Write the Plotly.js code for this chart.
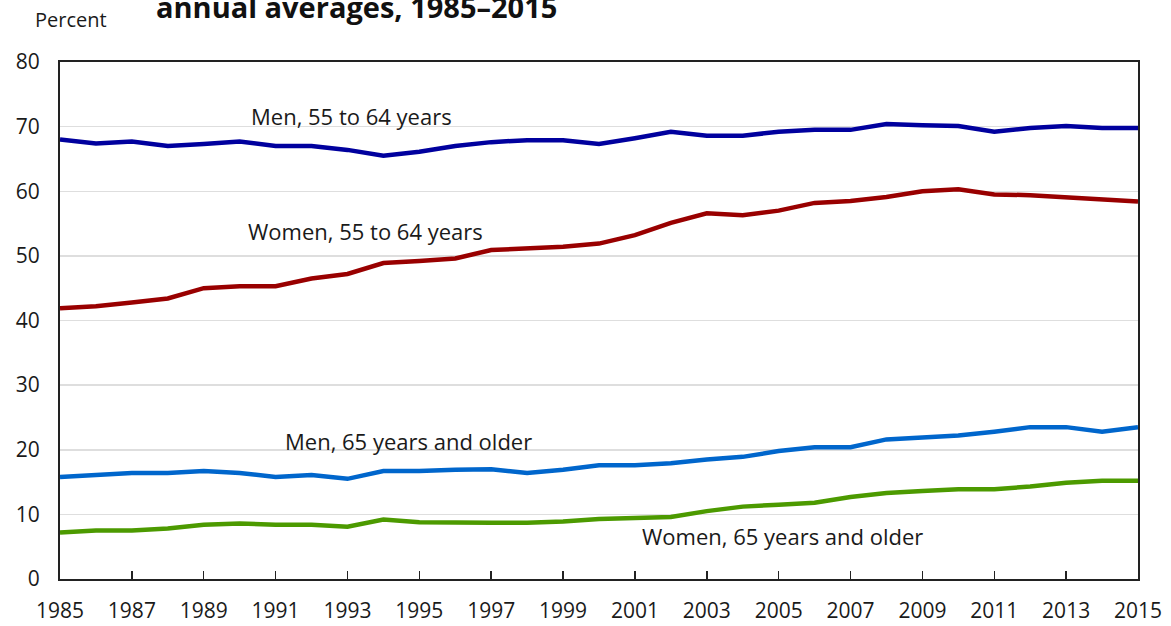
<!DOCTYPE html>
<html>
<head>
<meta charset="utf-8">
<script src="https://cdn.plot.ly/plotly-3.0.1.min.js"></script>
<style>
  html, body { margin: 0; padding: 0; background: #fff; }
  #chart { width: 1171px; height: 626px; }
</style>
</head>
<body>
<div id="chart"></div>
<script>
var years = [];
for (var y = 1985; y <= 2015; y++) years.push(y);

var men5564 = [68.0,67.4,67.7,67.0,67.3,67.7,67.0,67.0,66.4,65.5,66.1,67.0,67.6,67.9,67.9,67.3,68.2,69.2,68.6,68.6,69.2,69.5,69.5,70.4,70.2,70.1,69.2,69.8,70.1,69.8,69.8];
var women5564 = [41.9,42.2,42.8,43.4,45.0,45.3,45.3,46.5,47.2,48.9,49.2,49.6,50.9,51.2,51.4,51.9,53.2,55.1,56.6,56.3,57.0,58.2,58.5,59.1,60.0,60.3,59.5,59.4,59.1,58.8,58.4];
var men65 = [15.8,16.1,16.4,16.4,16.7,16.4,15.8,16.1,15.5,16.7,16.7,16.9,17.0,16.4,16.9,17.6,17.6,17.9,18.5,18.9,19.8,20.4,20.4,21.6,21.9,22.2,22.8,23.5,23.5,22.8,23.5];
var women65 = [7.2,7.5,7.5,7.8,8.4,8.6,8.4,8.4,8.1,9.2,8.8,8.7,8.7,8.7,8.9,9.3,9.5,9.6,10.5,11.2,11.5,11.8,12.7,13.3,13.6,13.9,13.9,14.3,14.9,15.2,15.2];

var xTicks = [1985,1987,1989,1991,1993,1995,1997,1999,2001,2003,2005,2007,2009,2011,2013,2015];

var font = "Open Sans, Noto Sans, sans-serif";

function series(vals, color) {
  return { x: years, y: vals, mode: "lines", type: "scatter",
           line: { color: color, width: 4.5 }, hoverinfo: "skip" };
}

var data = [
  series(men5564, "#00009e"),
  series(women5564, "#990000"),
  series(men65, "#0066cc"),
  series(women65, "#4c9a00")
];

var layout = {
  width: 1171, height: 626,
  margin: { l: 60, r: 33, t: 62, b: 47 },
  paper_bgcolor: "#fff", plot_bgcolor: "#fff",
  showlegend: false,
  font: { family: font, color: "#1a1a1a", size: 22 },
  xaxis: {
    range: [1985, 2015], tickvals: xTicks, ticktext: xTicks.map(String),
    ticks: "inside", ticklen: 8, tickwidth: 1.5, tickcolor: "#222",
    showline: true, linecolor: "#222", linewidth: 2, mirror: true,
    showgrid: false, zeroline: false, ticklabelstandoff: 12,
    tickfont: { size: 21 }
  },
  yaxis: {
    range: [0, 80], dtick: 10, ticks: "",
    showline: true, linecolor: "#222", linewidth: 2, mirror: true,
    gridcolor: "#dedede", gridwidth: 1.5, zeroline: false,
    ticklabelstandoff: 14, tickfont: { size: 21 }
  },
  annotations: [
    { text: "<b>annual averages, 1985–2015</b>", xref: "paper", yref: "paper",
      x: 0.2755, y: 1.108, xanchor: "center", yanchor: "middle", showarrow: false,
      font: { size: 29, color: "#111" } },
    { text: "Percent", xref: "paper", yref: "paper", x: -0.025, y: 1.082,
      xanchor: "left", yanchor: "middle", showarrow: false, font: { size: 20 } },
    { text: "Men, 55 to 64 years", x: 1993.1, y: 71.6, showarrow: false, xanchor: "center", yanchor: "middle" },
    { text: "Women, 55 to 64 years", x: 1993.5, y: 53.8, showarrow: false, xanchor: "center", yanchor: "middle" },
    { text: "Men, 65 years and older", x: 1994.7, y: 21.4, showarrow: false, xanchor: "center", yanchor: "middle" },
    { text: "Women, 65 years and older", x: 2005.1, y: 6.6, showarrow: false, xanchor: "center", yanchor: "middle" }
  ]
};

Plotly.newPlot("chart", data, layout, { displayModeBar: false, staticPlot: true });
</script>
</body>
</html>
